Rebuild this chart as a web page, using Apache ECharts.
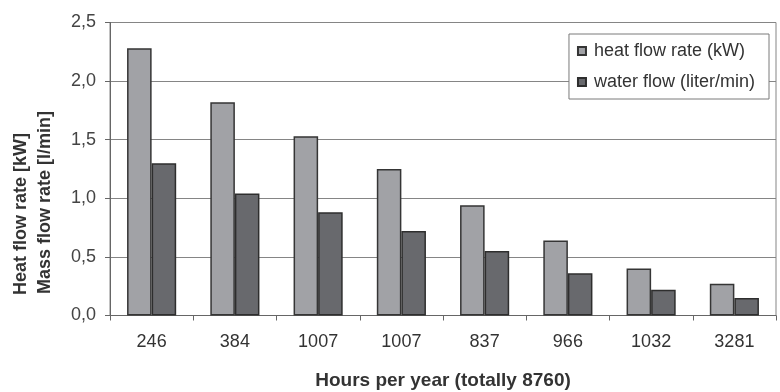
<!DOCTYPE html>
<html>
<head>
<meta charset="utf-8">
<script src="https://cdn.jsdelivr.net/npm/echarts@6/dist/echarts.min.js"></script>
<style>
  html, body { margin: 0; padding: 0; background: #fff; }
  #chart { width: 780px; height: 392px; }
</style>
</head>
<body>
<div id="chart"></div>
<script>
// Operating hours per year for each load step
const hoursPerYear = ['246', '384', '1007', '1007', '837', '966', '1032', '3281'];
// Heat flow rate in kW
const heatFlowRate = [2.28, 1.82, 1.53, 1.25, 0.94, 0.64, 0.40, 0.27];
// Water flow in liter/min
const waterFlow = [1.30, 1.04, 0.88, 0.72, 0.55, 0.36, 0.22, 0.15];
const yTicks = [0, 0.5, 1.0, 1.5, 2.0, 2.5];

const FONT = 'Liberation Sans, Arial, sans-serif';

const chart = echarts.init(document.getElementById('chart'), null, { renderer: 'canvas' });

chart.setOption({
  backgroundColor: '#fff',
  animation: false,
  textStyle: { fontFamily: FONT },
  grid: {
    left: 110, right: 4, top: 22.5, bottom: 76.5,
    outerBoundsMode: 'none',
    containLabel: false,
    show: true, borderColor: '#858585', borderWidth: 1
  },
  legend: {
    orient: 'vertical',
    right: 11, top: 34,
    padding: [8, 14, 8, 8],
    itemGap: 13,
    itemWidth: 8, itemHeight: 8,
    icon: 'rect',
    backgroundColor: '#fff',
    borderColor: '#7a7a7a', borderWidth: 1,
    textStyle: { fontSize: 18, color: '#333', fontFamily: FONT, padding: [0, 0, 0, 3] },
    data: ['heat flow rate (kW)', 'water flow (liter/min)']
  },
  xAxis: {
    type: 'category',
    data: hoursPerYear,
    name: 'Hours per year (totally 8760)',
    nameLocation: 'middle',
    nameGap: 56,
    nameTextStyle: { fontSize: 19, fontWeight: 'bold', color: '#333', fontFamily: FONT },
    axisLine: { lineStyle: { color: '#666', width: 1 } },
    axisTick: { show: true, length: 5, lineStyle: { color: '#666' } },
    axisLabel: { fontSize: 18, color: '#333', margin: 18, fontFamily: FONT }
  },
  yAxis: {
    type: 'value',
    min: yTicks[0], max: yTicks[yTicks.length - 1], interval: 0.5,
    axisLine: { show: true, lineStyle: { color: '#666', width: 1 } },
    axisTick: { show: true, length: 5, lineStyle: { color: '#666' } },
    splitLine: { lineStyle: { color: '#858585', width: 1 } },
    axisLabel: {
      fontSize: 18, color: '#444', margin: 14, fontFamily: FONT,
      formatter: v => v.toFixed(1).replace('.', ',')
    }
  },
  graphic: [
    {
      type: 'text', x: 21, y: 295, rotation: Math.PI / 2,
      style: {
        text: 'Heat flow rate [kW]', font: 'bold 18px ' + FONT,
        fill: '#333', align: 'left', verticalAlign: 'middle'
      }
    },
    {
      type: 'text', x: 45, y: 294, rotation: Math.PI / 2,
      style: {
        text: 'Mass flow rate [l/min]', font: 'bold 18px ' + FONT,
        fill: '#333', align: 'left', verticalAlign: 'middle'
      }
    }
  ],
  series: [
    {
      name: 'heat flow rate (kW)',
      type: 'bar',
      data: heatFlowRate,
      barGap: '0%',
      barCategoryGap: '41%',
      itemStyle: { color: '#a1a2a6', borderColor: '#353535', borderWidth: 1.5 }
    },
    {
      name: 'water flow (liter/min)',
      type: 'bar',
      data: waterFlow,
      itemStyle: { color: '#68696d', borderColor: '#2e2e2e', borderWidth: 1.5 }
    }
  ]
});
</script>
</body>
</html>
